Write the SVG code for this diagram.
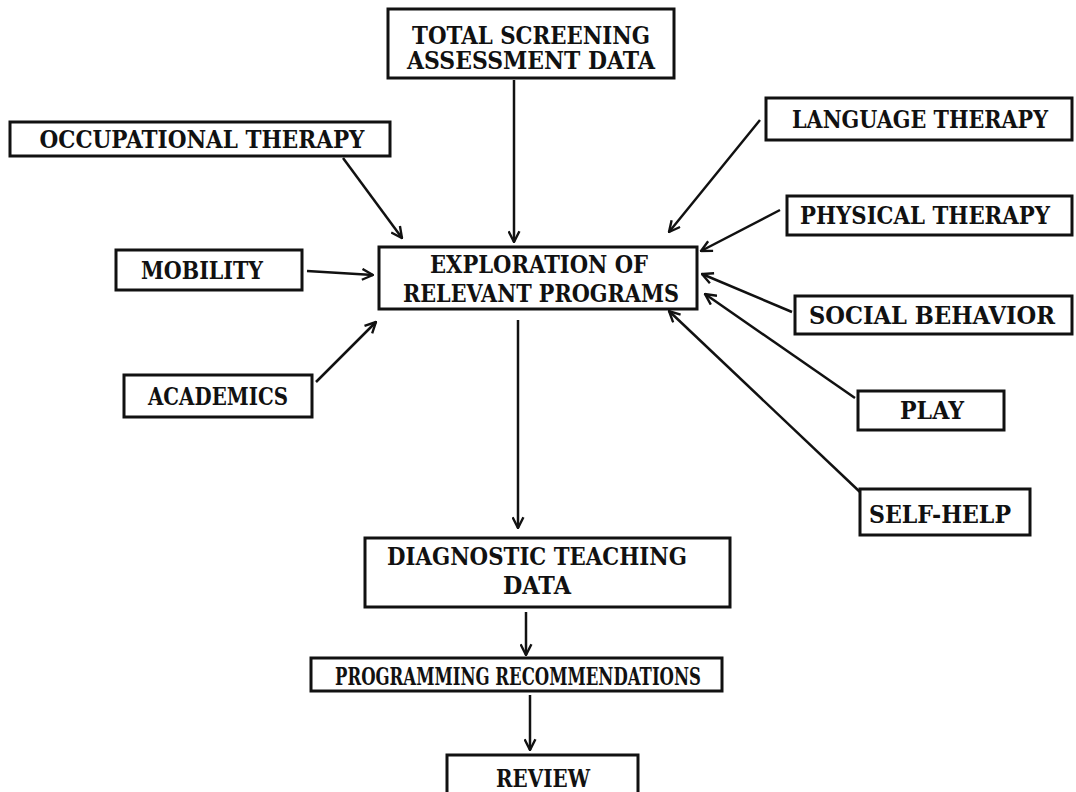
<svg xmlns="http://www.w3.org/2000/svg" width="1076" height="792" viewBox="0 0 1076 792">
  <style>
    .box { fill: none; stroke: #111; stroke-width: 3; }
    .lbl { font-family: "DejaVu Serif", "Liberation Serif", serif; font-weight: bold; font-size: 25px; fill: #111; }
    .edge { fill: none; stroke: #111; stroke-width: 2.5; marker-end: url(#head); }
  </style>
  <defs>
    <marker id="head" viewBox="0 0 12 12" refX="11" refY="6" markerWidth="13" markerHeight="13" markerUnits="userSpaceOnUse" orient="auto">
      <path d="M1,1 L11,6 L1,11" fill="none" stroke="#111" stroke-width="2.2"/>
    </marker>
  </defs>
  <rect width="1076" height="792" fill="#fff"/>

  <g id="connectors">
    <line class="edge" x1="514" y1="80" x2="514" y2="242"/>
    <line class="edge" x1="343" y1="158" x2="402" y2="238"/>
    <line class="edge" x1="760" y1="120" x2="669" y2="232"/>
    <line class="edge" x1="780" y1="210" x2="701" y2="251"/>
    <line class="edge" x1="307" y1="271" x2="373" y2="275"/>
    <line class="edge" x1="316" y1="382" x2="376" y2="322"/>
    <line class="edge" x1="792" y1="312" x2="702" y2="274"/>
    <line class="edge" x1="855" y1="398" x2="705" y2="294"/>
    <line class="edge" x1="860" y1="492" x2="669" y2="311"/>
    <line class="edge" x1="518" y1="320" x2="518" y2="528"/>
    <line class="edge" x1="526" y1="612" x2="526" y2="655"/>
    <line class="edge" x1="530" y1="695" x2="530" y2="750"/>
  </g>

  <g id="total-screening">
    <rect class="box" x="388" y="9" width="286" height="69"/>
    <text class="lbl" x="531" y="44" text-anchor="middle" textLength="238" lengthAdjust="spacingAndGlyphs">TOTAL SCREENING</text>
    <text class="lbl" x="531" y="69" text-anchor="middle" textLength="248" lengthAdjust="spacingAndGlyphs">ASSESSMENT DATA</text>
  </g>

  <g id="occupational-therapy">
    <rect class="box" x="10" y="122" width="380" height="34"/>
    <text class="lbl" x="202" y="148" text-anchor="middle" textLength="325" lengthAdjust="spacingAndGlyphs">OCCUPATIONAL THERAPY</text>
  </g>

  <g id="language-therapy">
    <rect class="box" x="766" y="98" width="306" height="42"/>
    <text class="lbl" x="920" y="128" text-anchor="middle" textLength="256" lengthAdjust="spacingAndGlyphs">LANGUAGE THERAPY</text>
  </g>

  <g id="physical-therapy">
    <rect class="box" x="787" y="196" width="285" height="39"/>
    <text class="lbl" x="925" y="224" text-anchor="middle" textLength="250" lengthAdjust="spacingAndGlyphs">PHYSICAL THERAPY</text>
  </g>

  <g id="mobility">
    <rect class="box" x="116" y="250" width="186" height="40"/>
    <text class="lbl" x="202" y="279" text-anchor="middle" textLength="122" lengthAdjust="spacingAndGlyphs">MOBILITY</text>
  </g>

  <g id="exploration">
    <rect class="box" x="379" y="247" width="318" height="62"/>
    <text class="lbl" x="539" y="273" text-anchor="middle" textLength="218" lengthAdjust="spacingAndGlyphs">EXPLORATION OF</text>
    <text class="lbl" x="541" y="302" text-anchor="middle" textLength="276" lengthAdjust="spacingAndGlyphs">RELEVANT PROGRAMS</text>
  </g>

  <g id="social-behavior">
    <rect class="box" x="795" y="296" width="277" height="38"/>
    <text class="lbl" x="932" y="324" text-anchor="middle" textLength="246" lengthAdjust="spacingAndGlyphs">SOCIAL BEHAVIOR</text>
  </g>

  <g id="academics">
    <rect class="box" x="124" y="375" width="188" height="42"/>
    <text class="lbl" x="218" y="405" text-anchor="middle" textLength="140" lengthAdjust="spacingAndGlyphs">ACADEMICS</text>
  </g>

  <g id="play">
    <rect class="box" x="858" y="391" width="146" height="39"/>
    <text class="lbl" x="932" y="419" text-anchor="middle" textLength="64" lengthAdjust="spacingAndGlyphs">PLAY</text>
  </g>

  <g id="self-help">
    <rect class="box" x="860" y="489" width="170" height="46"/>
    <text class="lbl" x="940" y="523" text-anchor="middle" textLength="142" lengthAdjust="spacingAndGlyphs">SELF-HELP</text>
  </g>

  <g id="diagnostic-teaching">
    <rect class="box" x="365" y="538" width="365" height="69"/>
    <text class="lbl" x="537" y="565" text-anchor="middle" textLength="300" lengthAdjust="spacingAndGlyphs">DIAGNOSTIC TEACHING</text>
    <text class="lbl" x="537" y="594" text-anchor="middle" textLength="68" lengthAdjust="spacingAndGlyphs">DATA</text>
  </g>

  <g id="programming-recommendations">
    <rect class="box" x="311" y="658" width="411" height="33"/>
    <text class="lbl" x="518" y="685" text-anchor="middle" textLength="366" lengthAdjust="spacingAndGlyphs">PROGRAMMING RECOMMENDATIONS</text>
  </g>

  <g id="review">
    <path class="box" d="M447,792 V755 H638 V792"/>
    <text class="lbl" x="543" y="787" text-anchor="middle" textLength="94" lengthAdjust="spacingAndGlyphs">REVIEW</text>
  </g>
</svg>
